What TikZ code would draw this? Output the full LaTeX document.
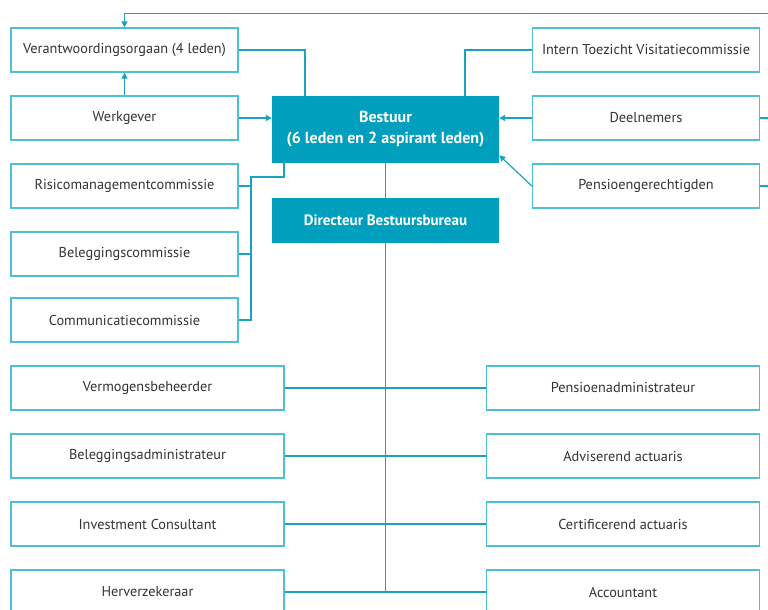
\documentclass[tikz,border=0pt]{standalone}
\usepackage{fontspec}
\setmainfont{PT Sans}
\usetikzlibrary{arrows.meta}
\definecolor{teal}{HTML}{009FBE}
\definecolor{boxline}{HTML}{4DBFD4}
\definecolor{linecol}{HTML}{1AA3C0}
\definecolor{txt}{HTML}{333333}
\newcommand{\h}{44pt}

\begin{document}
\begin{tikzpicture}[x=1pt,y=-1pt,
    box/.style={draw=boxline, line width=1.3pt, rectangle, minimum width=227pt, minimum height=\h, inner sep=0pt, text=txt, font=\fontsize{14.3}{17}\selectfont},
    wide/.style={box, minimum width=273pt},
    head/.style={fill=teal, rectangle, minimum width=227pt, inner sep=0pt, text=white, align=center, font=\bfseries\fontsize{16}{21}\selectfont},
    conn/.style={draw=linecol, line width=1.2pt},
    arr/.style={conn, -{Triangle[length=6pt,width=6pt]}}]
    \clip (0,0) rectangle (768,610);

    % Board
    \node[head, minimum height=67pt] (bestuur) at (385.5,129.5) {Bestuur\\(6 leden en 2 aspirant leden)};
    \node[head, minimum height=45pt, font=\bfseries\fontsize{15}{18}\selectfont] (directeur) at (385.5,220.5) {Directeur Bestuursbureau};

    % Left column
    \node[box] (vo) at (124.5,50) {Verantwoordingsorgaan (4 leden)};
    \node[box] (werkgever) at (124.5,118) {Werkgever};
    \node[box] (risico) at (124.5,186) {Risicomanagementcommissie};
    \node[box] (beleggingscie) at (124.5,254) {Beleggingscommissie};
    \node[box] (communicatie) at (124.5,320) {Communicatiecommissie};

    % Right column
    \node[box] (itv) at (646,50) {Intern Toezicht Visitatiecommissie};
    \node[box] (deelnemers) at (646,118) {Deelnemers};
    \node[box] (pensioen) at (646,186) {Pensioengerechtigden};

    % Service providers
    \node[wide] (vermogen) at (147.5,388) {Vermogensbeheerder};
    \node[wide] (beladmin) at (147.5,456) {Beleggingsadministrateur};
    \node[wide] (consultant) at (147.5,524) {Investment Consultant};
    \node[wide] (herverz) at (147.5,592) {Herverzekeraar};
    \node[wide] (pensadmin) at (623,388) {Pensioenadministrateur};
    \node[wide] (adviserend) at (623,456) {Adviserend actuaris};
    \node[wide] (certificerend) at (623,524) {Certificerend actuaris};
    \node[wide] (accountant) at (623,592) {Accountant};

    % Connectors
    \draw[conn] (vo.east) -| (305,96);
    \draw[conn] (itv.west) -| (465,96);
    \draw[arr] (werkgever.north) -- (vo.south);
    \draw[arr] (werkgever.east) -- (werkgever.east -| bestuur.west);
    \draw[arr] (deelnemers.west) -- (deelnemers.west -| bestuur.east);
    \draw[arr] (pensioen.west) -- ([yshift=8pt]bestuur.south east);
    \draw[arr] (pensioen.east) -- ++(20,0) |- ([yshift=14pt]vo.north) -- (vo.north);
    \draw[conn] (deelnemers.east) -- ++(20,0);

    \draw[conn] (284,163) |- (251,177) |- (communicatie.east);
    \draw[conn] (risico.east) -- (251,186);
    \draw[conn] (beleggingscie.east) -- (251,254);

    \draw[conn] (bestuur.south) -- (directeur.north);
    \draw[conn] (directeur.south) -- (385.5,592);
    \draw[conn] (vermogen.east) -- (pensadmin.west);
    \draw[conn] (beladmin.east) -- (adviserend.west);
    \draw[conn] (consultant.east) -- (certificerend.west);
    \draw[conn] (herverz.east) -- (accountant.west);
\end{tikzpicture}
\end{document}
